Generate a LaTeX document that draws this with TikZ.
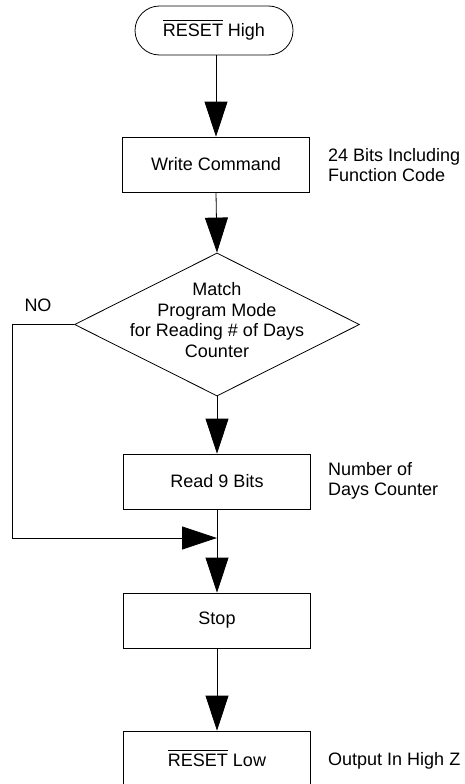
\documentclass[tikz,border=0pt]{standalone}
\usepackage{fontspec}
\setmainfont{Liberation Sans}
\usetikzlibrary{arrows.meta,shapes.geometric}
\newcommand{\rst}{\setbox0\hbox{RESET}\rlap{\rule[\dimexpr\ht0+3pt\relax]{\wd0}{0.8pt}}\box0}
\begin{document}
\begin{tikzpicture}[x=1pt,y=-1pt,
  every node/.style={font=\fontsize{18}{20.5}\selectfont},
  box/.style={draw,line width=0.8pt,minimum width=187pt,minimum height=55pt,inner sep=0pt},
  term/.style={draw,line width=0.8pt,rounded corners=24.5pt,minimum width=158pt,minimum height=49pt,inner sep=0pt},
  dia/.style={draw,line width=0.8pt,diamond,minimum width=285pt,minimum height=143pt,inner sep=0pt},
  side/.style={anchor=west,align=left,inner sep=0pt},
  arr/.style={line width=0.8pt,-{Triangle[length=35pt,width=23pt]}},
  ln/.style={line width=0.8pt}]
\useasboundingbox (0,0) rectangle (465,784);
\node[term] (start) at (214,30.5) {\rst\ High};
\node[box] (write) at (216,164.5) {Write Command};
\node[side] (wnote) at (328,165) {24 Bits Including\\Function Code};
\node[dia] (dec) at (217,324.5) {};
\node[align=center,inner sep=0pt] (dectext) at (217,320) {Match\\Program Mode\\for Reading \# of Days\\Counter};
\node[inner sep=0pt] (no) at (38,305) {NO};
\node[box] (read) at (217,481.5) {Read 9 Bits};
\node[side] (rnote) at (328,481) {Number of\\Days Counter};
\coordinate (j) at (217,538);
\node[box] (stop) at (217,620.5) {Stop};
\node[box] (low) at (217,758.5) {\rst\ Low};
\node[side] (lnote) at (328,761) {Output In High Z};
\draw[arr] (start.south -| write.north) -- (write.north);
\draw[arr] (write.south) -- (dec.north);
\draw[arr] (dec.south) -- (read.north);
\draw[arr] (dec.west) -- ++(-62,0) |- (j);
\draw[ln] (read.south) -- (j);
\draw[arr] (j) -- (stop.north);
\draw[arr] (stop.south) -- (low.north);
\end{tikzpicture}
\end{document}
